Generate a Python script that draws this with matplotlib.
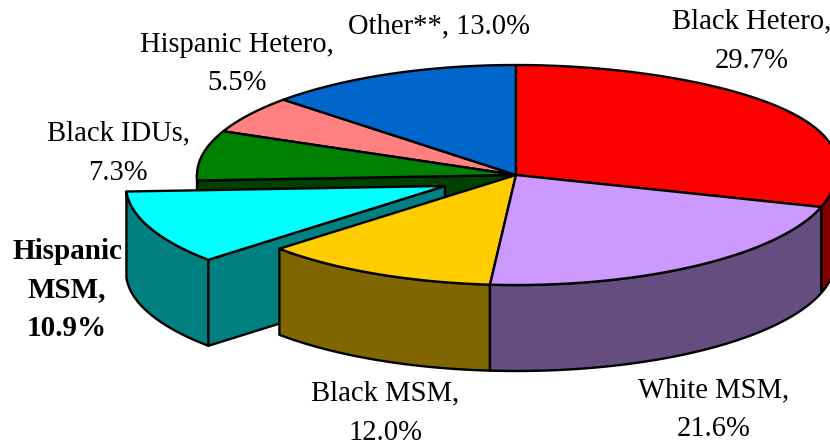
# 3D looking pie chart, drawn slice by slice from the percentages

import numpy as np
import matplotlib
matplotlib.use('Agg')
import matplotlib.pyplot as plt

plt.rcParams['font.family'] = ['Liberation Serif', 'DejaVu Serif']

# Data, clockwise from 12 o'clock
names = ['Black Hetero', 'White MSM', 'Black MSM', 'Hispanic MSM',
         'Black IDUs', 'Hispanic Hetero', 'Other**']
values = [29.7, 21.6, 12.0, 10.9, 7.3, 5.5, 13.0]
top_colors = ['#FF0000', '#CC99FF', '#FFCC00', '#00FFFF', '#008000', '#FF8080', '#0066CC']
side_colors = ['#800000', '#664D80', '#806600', '#008080', '#004000', '#804040', '#003366']

# Labels: text, x, y (pixel position of the centre), bold or not
label_text = ['Black Hetero,\n29.7%', 'White MSM,\n21.6%', 'Black MSM,\n12.0%',
              'Hispanic\nMSM,\n10.9%', 'Black IDUs,\n7.3%', 'Hispanic Hetero,\n5.5%',
              'Other**, 13.0%']
label_x = [752, 714, 385, 67, 118, 237, 439]
label_y = [41, 410, 413, 290, 153, 64, 26]
label_bold = [False, False, False, True, False, False, False]

# Pie geometry in pixels
cx, cy = 516, 175
rx, ry = 319, 110
depth = 86
explode = {3: (-71, 11)}

edges = np.cumsum([0] + values) / 100 * 2 * np.pi


def rim(start, end, n=80):
    t = np.linspace(start, end, n)
    # upper right of the reference pie bulges a little past a true ellipse
    bulge = 1 + 0.05 * np.clip(np.sin(2 * t), 0, None) * (t < np.pi / 2)
    return cx + rx * np.sin(t) * bulge, cy - ry * np.cos(t)


fig = plt.figure(figsize=(8.3, 4.45), dpi=100)
ax = fig.add_axes([0, 0, 1, 1])
ax.set_xlim(0, 830)
ax.set_ylim(445, 0)
ax.axis('off')


def shape(xs, ys, color, dx, dy, z):
    ax.fill(np.asarray(xs) + dx, np.asarray(ys) + dy, facecolor=color, edgecolor='black',
            linewidth=1.7, joinstyle='round', zorder=z)


# Back slices first, front slices last
order = [5, 6, 4, 3, 0, 2, 1]
for z, i in enumerate(order):
    dx, dy = explode.get(i, (0, 0))
    start, end = edges[i], edges[i + 1]
    xs, ys = rim(start, end)

    # outer wall, only the part of the rim facing the viewer
    a, b = max(start, np.pi / 2), min(end, 3 * np.pi / 2)
    if a < b:
        wx, wy = rim(a, b)
        shape(np.r_[wx, wx[::-1]], np.r_[wy, wy[::-1] + depth], side_colors[i], dx, dy, z)

    # cut faces which look towards the viewer
    if i in (3, 4):
        ex, ey = rim(start, start, 1)
        shape([cx, ex[0], ex[0], cx], [cy, ey[0], ey[0] + depth, cy + depth], side_colors[i], dx, dy, z)

    shape(np.r_[cx, xs], np.r_[cy, ys], top_colors[i], dx, dy, z + 0.5)

for text, x, y, bold in zip(label_text, label_x, label_y, label_bold):
    ax.text(x, y, text, ha='center', va='center', fontsize=21 if bold else 20.6, color='black',
            fontweight='bold' if bold else 'normal', linespacing=1.55 if bold else 1.65, zorder=20)

plt.savefig('out.png', dpi=100)
